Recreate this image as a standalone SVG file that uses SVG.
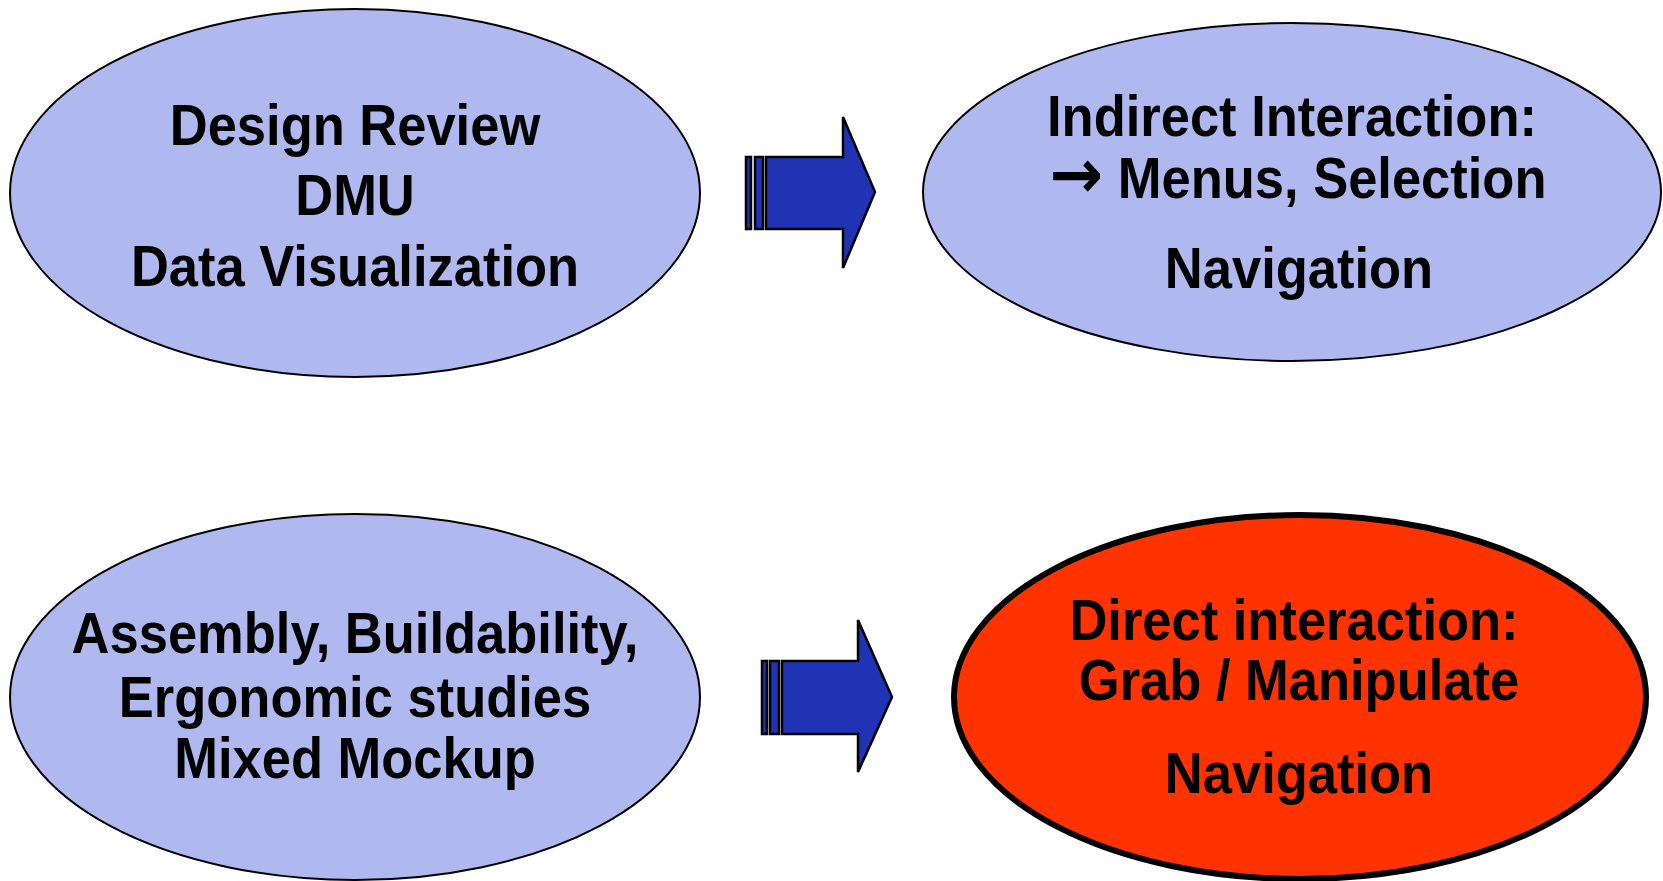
<svg xmlns="http://www.w3.org/2000/svg" width="1663" height="881" viewBox="0 0 1663 881">
<style>
.e{fill:#B0B8F0;stroke:#000;stroke-width:2}
.r{fill:#FF3300;stroke:#000;stroke-width:6}
.t{font-family:"Liberation Sans",Arial,sans-serif;font-weight:bold;font-size:52.5px;text-anchor:middle;fill:#000}
.ar{font-family:"DejaVu Sans",sans-serif;font-weight:bold;font-size:64px}
.a{fill:#2033B5;stroke:#000;stroke-width:2.5;stroke-linejoin:miter}
</style>
<rect width="1663" height="881" fill="#fff"/>
<g id="node-design">
<ellipse class="e" cx="355" cy="193" rx="345" ry="184"/>
<text class="t" transform="translate(355,145) scale(1,1.08)">Design Review</text>
<text class="t" transform="translate(355,215) scale(1,1.08)">DMU</text>
<text class="t" transform="translate(355,286) scale(1,1.08)">Data Visualization</text>
</g>
<g id="node-indirect">
<ellipse class="e" cx="1292" cy="192" rx="369" ry="169"/>
<text class="t" transform="translate(1292,136) scale(1,1.08)">Indirect Interaction:</text>
<text class="t" transform="translate(1298,198) scale(1,1.08)"><tspan class="ar">→</tspan> Menus, Selection</text>
<text class="t" transform="translate(1299,288) scale(1,1.08)">Navigation</text>
</g>
<g id="node-assembly">
<ellipse class="e" cx="355" cy="697" rx="345" ry="183"/>
<text class="t" transform="translate(355,653) scale(1,1.08)">Assembly, Buildability,</text>
<text class="t" transform="translate(355,717) scale(1,1.08)">Ergonomic studies</text>
<text class="t" transform="translate(355,778) scale(1,1.08)">Mixed Mockup</text>
</g>
<g id="node-direct">
<ellipse class="r" cx="1300" cy="697" rx="346" ry="182"/>
<text class="t" transform="translate(1294,640) scale(1,1.08)">Direct interaction:</text>
<text class="t" transform="translate(1299,700) scale(1,1.08)">Grab / Manipulate</text>
<text class="t" transform="translate(1299,793) scale(1,1.08)">Navigation</text>
</g>
<g id="connectors">
<g id="arrow-top">
<rect class="a" x="746" y="157" width="5" height="72"/>
<rect class="a" x="755" y="157" width="8" height="72"/>
<path class="a" d="M766,157 H843 V117 L875,192 L843,268 V229 H766 Z"/>
</g>
<g id="arrow-bottom">
<rect class="a" x="762" y="661" width="5" height="73"/>
<rect class="a" x="770" y="661" width="9" height="73"/>
<path class="a" d="M782,661 H858 V620 L892,697 L858,772 V734 H782 Z"/>
</g>
</g>
</svg>
